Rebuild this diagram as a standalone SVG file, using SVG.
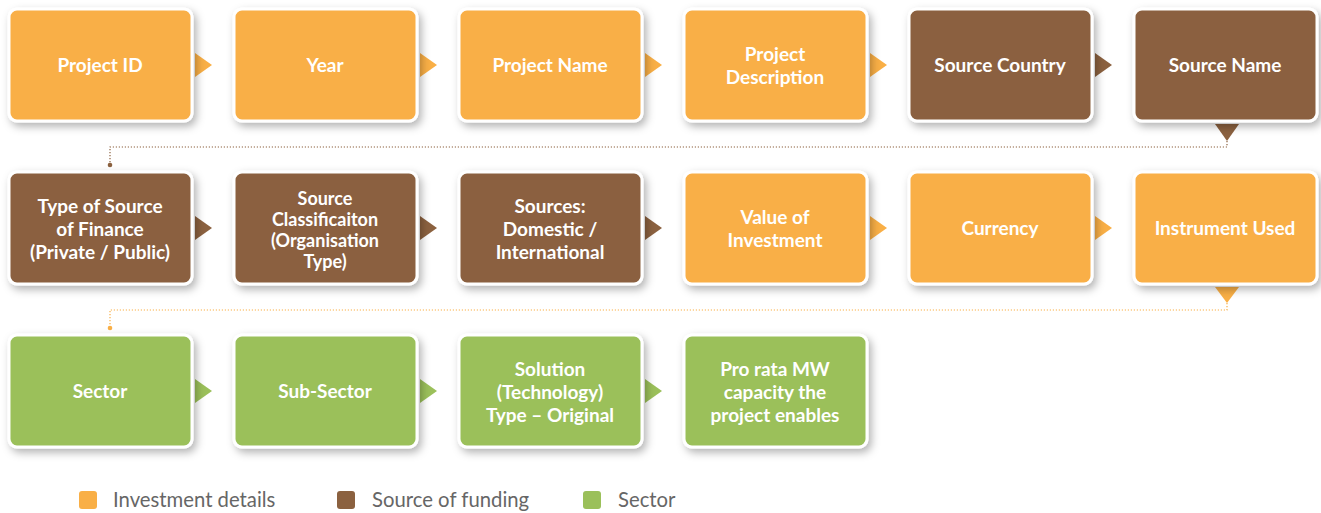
<svg xmlns="http://www.w3.org/2000/svg" width="1321" height="513" viewBox="0 0 1321 513">
<defs>
<filter id="sh" x="-10%" y="-10%" width="130%" height="135%">
<feDropShadow dx="3" dy="4" stdDeviation="4" flood-color="#000" flood-opacity="0.3"/>
</filter>
</defs>
<style>
.box{stroke:#fff;stroke-width:3;filter:url(#sh)}
.o{fill:#F9AF46}
.b{fill:#8B613F}
.g{fill:#9BC05A}
.t{font-family:Lato,"Liberation Sans",sans-serif;font-weight:bold;font-size:19px;fill:#fff;text-anchor:middle}
.t4{font-size:18px}
.lg{font-family:Lato,"Liberation Sans",sans-serif;font-weight:normal;font-size:20.3px;fill:#666}
.dotb{fill:none;stroke:#8B613F;stroke-width:1.2;stroke-dasharray:1.2 1.8}
.doto{fill:none;stroke:#F9AF46;stroke-width:1.2;stroke-dasharray:1.2 1.8}
</style>
<g id="connectors">
<polygon class="o" points="195,53 212,65 195,77"/>
<polygon class="o" points="420,53 437,65 420,77"/>
<polygon class="o" points="645,53 662,65 645,77"/>
<polygon class="o" points="870,53 887,65 870,77"/>
<polygon class="b" points="1095,53 1112,65 1095,77"/>
<polygon class="b" points="1215,124 1239,124 1227,141"/>
<path class="dotb" d="M1227,141 V147 H110 V164"/>
<circle class="b" cx="110" cy="165" r="2.3"/>
<polygon class="b" points="195,216 212,228 195,240"/>
<polygon class="b" points="420,216 437,228 420,240"/>
<polygon class="b" points="645,216 662,228 645,240"/>
<polygon class="o" points="870,216 887,228 870,240"/>
<polygon class="o" points="1095,216 1112,228 1095,240"/>
<polygon class="o" points="1215,287 1239,287 1227,303"/>
<path class="doto" d="M1227,303 V310 H110 V327"/>
<circle class="o" cx="110" cy="328" r="2.3"/>
<polygon class="g" points="195,379 212,391 195,403"/>
<polygon class="g" points="420,379 437,391 420,403"/>
<polygon class="g" points="645,379 662,391 645,403"/>
</g>
<g id="n1"><rect class="box o" x="9" y="9" width="183" height="112" rx="8"/><text class="t" x="100" y="72">Project ID</text></g>
<g id="n2"><rect class="box o" x="234" y="9" width="183" height="112" rx="8"/><text class="t" x="325" y="72">Year</text></g>
<g id="n3"><rect class="box o" x="459" y="9" width="183" height="112" rx="8"/><text class="t" x="550" y="72">Project Name</text></g>
<g id="n4"><rect class="box o" x="684" y="9" width="183" height="112" rx="8"/><text class="t" x="775" y="61">Project</text><text class="t" x="775" y="84">Description</text></g>
<g id="n5"><rect class="box b" x="909" y="9" width="183" height="112" rx="8"/><text class="t" x="1000" y="72">Source Country</text></g>
<g id="n6"><rect class="box b" x="1134" y="9" width="183" height="112" rx="8"/><text class="t" x="1225" y="72">Source Name</text></g>
<g id="n7"><rect class="box b" x="9" y="172" width="183" height="112" rx="8"/><text class="t" x="100" y="213">Type of Source</text><text class="t" x="100" y="236">of Finance</text><text class="t" x="100" y="259">(Private / Public)</text></g>
<g id="n8"><rect class="box b" x="234" y="172" width="183" height="112" rx="8"/><text class="t t4" x="325" y="205">Source</text><text class="t t4" x="325" y="226">Classificaiton</text><text class="t t4" x="325" y="247">(Organisation</text><text class="t t4" x="325" y="268">Type)</text></g>
<g id="n9"><rect class="box b" x="459" y="172" width="183" height="112" rx="8"/><text class="t" x="550" y="213">Sources:</text><text class="t" x="550" y="236">Domestic /</text><text class="t" x="550" y="259">International</text></g>
<g id="n10"><rect class="box o" x="684" y="172" width="183" height="112" rx="8"/><text class="t" x="775" y="224">Value of</text><text class="t" x="775" y="247">Investment</text></g>
<g id="n11"><rect class="box o" x="909" y="172" width="183" height="112" rx="8"/><text class="t" x="1000" y="235">Currency</text></g>
<g id="n12"><rect class="box o" x="1134" y="172" width="183" height="112" rx="8"/><text class="t" x="1225" y="235">Instrument Used</text></g>
<g id="n13"><rect class="box g" x="9" y="335" width="183" height="112" rx="8"/><text class="t" x="100" y="398">Sector</text></g>
<g id="n14"><rect class="box g" x="234" y="335" width="183" height="112" rx="8"/><text class="t" x="325" y="398">Sub-Sector</text></g>
<g id="n15"><rect class="box g" x="459" y="335" width="183" height="112" rx="8"/><text class="t" x="550" y="376">Solution</text><text class="t" x="550" y="399">(Technology)</text><text class="t" x="550" y="422">Type – Original</text></g>
<g id="n16"><rect class="box g" x="684" y="335" width="183" height="112" rx="8"/><text class="t" x="775" y="376">Pro rata MW</text><text class="t" x="775" y="399">capacity the</text><text class="t" x="775" y="422">project enables</text></g>
<g id="legend">
<rect class="o" x="79" y="491" width="18" height="18" rx="3"/><text class="lg" x="113" y="507">Investment details</text>
<rect class="b" x="337" y="491" width="18" height="18" rx="3"/><text class="lg" x="372" y="507">Source of funding</text>
<rect class="g" x="583" y="491" width="18" height="18" rx="3"/><text class="lg" x="618" y="507">Sector</text>
</g>
</svg>
